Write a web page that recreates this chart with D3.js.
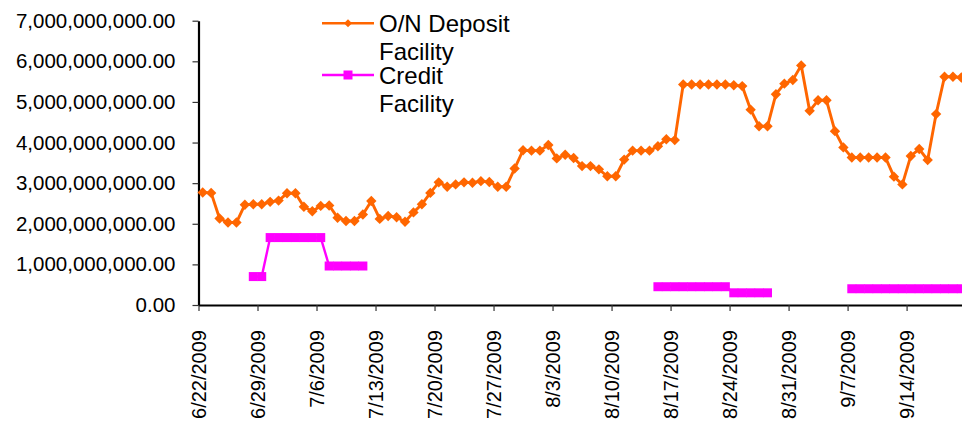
<!DOCTYPE html>
<html>
<head>
<meta charset="utf-8">
<script src="https://cdn.jsdelivr.net/npm/d3@7"></script>
<style>
    body {margin: 0; background: #ffffff;}
    #chart {width: 962px; height: 423px; overflow: hidden;}
</style>
</head>
<body>
<div id="chart"></div>
<script>
// one value per calendar day, starting at startDate
var startDate = "6/22/2009";
var depositFacility = [
    2770000000, 2760000000, 2130000000, 2030000000, 2030000000, 2470000000, 2480000000,
    2480000000, 2540000000, 2570000000, 2750000000, 2750000000, 2420000000, 2310000000,
    2440000000, 2450000000, 2150000000, 2070000000, 2070000000, 2230000000, 2560000000,
    2120000000, 2190000000, 2160000000, 2050000000, 2280000000, 2480000000, 2760000000,
    3020000000, 2910000000, 2970000000, 3020000000, 3010000000, 3050000000, 3030000000,
    2910000000, 2910000000, 3360000000, 3810000000, 3800000000, 3800000000, 3940000000,
    3610000000, 3700000000, 3620000000, 3420000000, 3420000000, 3340000000, 3170000000,
    3170000000, 3580000000, 3800000000, 3800000000, 3800000000, 3910000000, 4080000000,
    4060000000, 5430000000, 5430000000, 5430000000, 5430000000, 5430000000, 5430000000,
    5410000000, 5390000000, 4810000000, 4400000000, 4400000000, 5190000000, 5450000000,
    5540000000, 5900000000, 4780000000, 5040000000, 5040000000, 4280000000, 3880000000,
    3630000000, 3630000000, 3630000000, 3630000000, 3630000000, 3160000000, 2970000000,
    3670000000, 3840000000, 3570000000, 4700000000, 5620000000, 5620000000, 5600000000
];
var creditFacility = [
    null, null, null, null, null, null, 700000000,
    700000000, 1660000000, 1660000000, 1660000000, 1660000000, 1660000000, 1660000000,
    1660000000, 960000000, 960000000, 960000000, 960000000, 960000000, null,
    null, null, null, null, null, null, null,
    null, null, null, null, null, null, null,
    null, null, null, null, null, null, null,
    null, null, null, null, null, null, null,
    null, null, null, null, null, 450000000, 450000000,
    450000000, 450000000, 450000000, 450000000, 450000000, 450000000, 450000000,
    300000000, 300000000, 300000000, 300000000, 300000000, null, null,
    null, null, null, null, null, null, null,
    400000000, 400000000, 400000000, 400000000, 400000000, 400000000, 400000000,
    400000000, 400000000, 400000000, 400000000, 400000000, 400000000, 400000000
];
var tickDates = ["6/22/2009", "6/29/2009", "7/6/2009", "7/13/2009", "7/20/2009", "7/27/2009", "8/3/2009",
    "8/10/2009", "8/17/2009", "8/24/2009", "8/31/2009", "9/7/2009", "9/14/2009"];
var yTicks = [0, 1000000000, 2000000000, 3000000000, 4000000000, 5000000000, 6000000000, 7000000000];
var legendLabels = [["O/N Deposit", "Facility"], ["Credit", "Facility"]];

var options = {
    "width": 962,
    "height": 423,
    "marginLeft": 198.5,
    "marginTop": 20.7,
    "plotHeight": 284.3,
    "plotWidth": 767.1,
    "font": "'Liberation Sans', Arial, sans-serif",
    "colors": ["#ff6600", "#ff00ff"]
};

var parseDate = d3.timeParse("%m/%d/%Y");
var formatDate = d3.timeFormat("%-m/%-d/%Y");
var start = parseDate(startDate);

var rows = depositFacility.map(function(v, i){
    return {"date": d3.timeDay.offset(start, i), "deposit": v, "credit": creditFacility[i]};
});

var svg = d3.select("#chart").append("svg")
    .attr("width", options.width).attr("height", options.height)
    .style("font-family", options.font);
svg.append("rect").attr("width", options.width).attr("height", options.height).attr("fill", "#ffffff");

var group = svg.append("g")
    .attr("transform", "translate(" + options.marginLeft + "," + options.marginTop + ")");

var xScale = d3.scaleTime()
    .domain([start, d3.timeDay.offset(start, depositFacility.length)])
    .range([0, options.plotWidth]);
var yScale = d3.scaleLinear().domain([0, 7000000000]).range([options.plotHeight, 0]);

// points sit in the middle of their day
var xPos = function(d){ return xScale(d3.timeHour.offset(d.date, 12)); };

// axes
var xAxis = d3.axisBottom(xScale)
    .tickValues(tickDates.map(parseDate))
    .tickFormat(formatDate)
    .tickSize(6).tickSizeOuter(0);
var xais_x_group = group.append("g")
    .attr("transform", "translate(0," + options.plotHeight + ")")
    .call(xAxis);
xais_x_group.select(".domain").attr("stroke", "#000").attr("stroke-width", 2.2);
xais_x_group.selectAll(".tick line").attr("stroke", "#333").attr("stroke-width", 1.2);
xais_x_group.selectAll(".tick text")
    .attr("transform", "rotate(-90)")
    .attr("x", -25).attr("y", 0).attr("dy", "0.35em")
    .attr("text-anchor", "end")
    .attr("fill", "#000")
    .style("font-size", "20px").style("font-family", options.font);

var yAxis = d3.axisLeft(yScale)
    .tickValues(yTicks)
    .tickFormat(d3.format(",.2f"))
    .tickSize(6).tickSizeOuter(0).tickPadding(17);
var xais_y_group = group.append("g").call(yAxis);
xais_y_group.select(".domain").attr("stroke", "#000").attr("stroke-width", 2.2);
xais_y_group.selectAll(".tick line").attr("stroke", "#333").attr("stroke-width", 1.2);
xais_y_group.selectAll(".tick text")
    .attr("fill", "#000")
    .style("font-size", "20.5px").style("font-family", options.font);

// series
var diamond = "M0,-5.2L5.2,0L0,5.2L-5.2,0Z";

var depositLine = d3.line()
    .x(xPos)
    .y(function(d){ return yScale(d.deposit); });
group.append("path").datum(rows)
    .attr("d", depositLine)
    .attr("fill", "none")
    .attr("stroke", options.colors[0])
    .attr("stroke-width", 2.9)
    .attr("stroke-linejoin", "round");
group.selectAll(".depositMark")
    .data(rows)
    .enter().append("path")
    .attr("class", "depositMark")
    .attr("d", diamond)
    .attr("transform", function(d){ return "translate(" + xPos(d) + "," + yScale(d.deposit) + ")"; })
    .attr("fill", options.colors[0]);

var creditRows = rows.filter(function(d){ return d.credit !== null; });
var creditLine = d3.line()
    .defined(function(d){ return d.credit !== null; })
    .x(xPos)
    .y(function(d){ return yScale(d.credit); });
group.append("path").datum(rows)
    .attr("d", creditLine)
    .attr("fill", "none")
    .attr("stroke", options.colors[1])
    .attr("stroke-width", 2.4);
group.selectAll(".creditMark")
    .data(creditRows)
    .enter().append("rect")
    .attr("class", "creditMark")
    .attr("x", function(d){ return xPos(d) - 4.5; })
    .attr("y", function(d){ return yScale(d.credit) - 4.5; })
    .attr("width", 9).attr("height", 9)
    .attr("fill", options.colors[1]);

// legend
var legend = svg.append("g").attr("transform", "translate(322,0)");
legendLabels.forEach(function(lines, i){
    var cy = [23.3, 75][i];
    var item = legend.append("g").attr("transform", "translate(0," + cy + ")");
    item.append("line").attr("x1", 0).attr("x2", 52).attr("y1", 0).attr("y2", 0)
        .attr("stroke", options.colors[i]).attr("stroke-width", 2.4);
    if (i === 0){
        item.append("path").attr("d", "M0,-4L4,0L0,4L-4,0Z")
            .attr("transform", "translate(26,0)").attr("fill", options.colors[i]);
    } else {
        item.append("rect").attr("x", 21.5).attr("y", -4.5).attr("width", 9).attr("height", 9)
            .attr("fill", options.colors[i]);
    }
    var text = item.append("text")
        .attr("x", 57).attr("y", 8.5)
        .attr("fill", "#000")
        .style("font-size", "24px");
    lines.forEach(function(t, j){
        text.append("tspan").attr("x", 57).attr("dy", j === 0 ? 0 : 28).text(t);
    });
});
</script>
</body>
</html>
